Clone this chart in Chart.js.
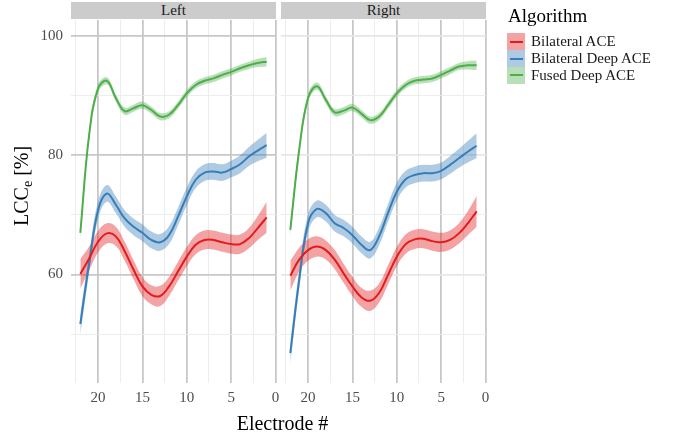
<!DOCTYPE html>
<html>
<head>
<meta charset="utf-8">
<script src="https://cdn.jsdelivr.net/npm/chart.js@4.4.1/dist/chart.umd.min.js"></script>
<style>
  body { margin: 0; background: #fff; font-family: "Liberation Serif", serif; }
  #wrap { position: relative; width: 680px; height: 438px; overflow: hidden; }
  canvas { position: absolute; left: 0; top: 0; }
  .strip { position: absolute; top: 2px; height: 17px; background: #cccccc; color: #1a1a1a;
           font-size: 15px; line-height: 17px; text-align: center; }
  #xtitle { position: absolute; left: 0; width: 565px; top: 413px; font-size: 20px; line-height: 20px;
            text-align: center; color: #000; }
  #ytitle { position: absolute; left: 11px; top: 226px; font-size: 20px; line-height: 20px; white-space: nowrap;
            transform-origin: 0 0; transform: rotate(-90deg); color: #000; }
  #ytitle span { font-size: 14px; position: relative; top: 4px; }
  #legend { position: absolute; left: 507px; top: 0; }
  .ltitle { position: absolute; left: 1px; top: 6px; font-size: 19px; line-height: 19px; white-space: nowrap; }
  .item { position: absolute; left: 0; height: 17px; white-space: nowrap; font-size: 15px; line-height: 17px; }
  .key { position: absolute; left: 0; top: 0; width: 18px; height: 17px; }
  .key i { position: absolute; left: 3px; top: 7.5px; width: 13px; height: 2px; }
  .item b { font-weight: normal; position: absolute; left: 24px; top: 0; color: #1a1a1a; }
</style>
</head>
<body>
<div id="wrap">
  <canvas id="leftChart" width="680" height="438"></canvas>
  <canvas id="rightChart" width="680" height="438"></canvas>
  <div class="strip" style="left:71px;width:205px;">Left</div>
  <div class="strip" style="left:281px;width:205px;">Right</div>
  <div id="xtitle">Electrode #</div>
  <div id="ytitle">LCC<span>e</span> [%]</div>
  <div id="legend"><div class="ltitle">Algorithm</div></div>
</div>
<script>
const electrodes = [22, 21, 20, 19, 18, 17, 16, 15, 14, 13, 12, 11, 10, 9, 8, 7, 6, 5, 4, 3, 2, 1];
const algorithms = ["Bilateral ACE", "Bilateral Deep ACE", "Fused Deep ACE"];
const lineColors = ["#E41A1C", "#377EB8", "#4DAF4A"];
const fillColors = ["rgba(228,26,28,0.4)", "rgba(55,126,184,0.4)", "rgba(77,175,74,0.4)"];

// smoothed LCC_e per electrode (22 -> 1)
const leftRed = [60.1, 62.7, 65.5, 66.9, 66.4, 63.9, 60.8, 58.0, 56.6, 56.4, 58.0, 60.5, 63.0, 65.0, 65.8, 65.8, 65.4, 65.1, 65.1, 66.1, 67.8, 69.6];
const leftBlue = [51.7, 61.9, 70.8, 73.6, 71.7, 69.4, 68.0, 67.0, 65.8, 65.4, 66.6, 69.7, 73.1, 75.9, 77.1, 77.3, 77.1, 77.7, 78.5, 79.8, 80.8, 81.7];
const leftGreen = [67.0, 83.5, 91.2, 92.5, 89.6, 87.4, 87.9, 88.4, 87.6, 86.5, 86.8, 88.4, 90.4, 91.8, 92.5, 92.9, 93.5, 94.0, 94.6, 95.1, 95.5, 95.7];
const rightRed = [59.8, 62.5, 64.1, 64.7, 64.1, 62.5, 60.2, 58.0, 56.2, 55.6, 56.9, 59.9, 63.0, 65.1, 65.9, 66.0, 65.6, 65.4, 65.8, 66.9, 68.6, 70.6];
const rightBlue = [46.8, 59.1, 68.6, 71.0, 70.3, 68.6, 67.8, 66.6, 65.0, 64.1, 66.4, 70.3, 73.9, 76.0, 76.7, 77.0, 77.0, 77.4, 78.4, 79.5, 80.6, 81.6];
const rightGreen = [67.5, 80.9, 89.6, 91.6, 89.3, 87.2, 87.5, 88.0, 87.0, 85.9, 86.5, 88.4, 90.4, 91.8, 92.5, 92.7, 92.9, 93.5, 94.2, 94.9, 95.1, 95.1];

// half width of the confidence band
const seRed = [2.5, 2.0, 1.8, 1.7, 1.6, 1.6, 1.6, 1.6, 1.6, 1.7, 1.6, 1.6, 1.6, 1.6, 1.6, 1.6, 1.6, 1.6, 1.6, 1.7, 2.0, 2.6];
const seBlue = [1.8, 1.6, 1.5, 1.4, 1.4, 1.4, 1.4, 1.4, 1.4, 1.4, 1.5, 1.5, 1.5, 1.4, 1.4, 1.4, 1.4, 1.4, 1.5, 1.6, 1.8, 2.1];
const seGreen = [1.2, 0.9, 0.7, 0.6, 0.6, 0.6, 0.6, 0.6, 0.6, 0.6, 0.6, 0.6, 0.6, 0.6, 0.6, 0.6, 0.6, 0.6, 0.6, 0.6, 0.7, 0.8];

const xGridValues = [0, 2.5, 5, 7.5, 10, 12.5, 15, 17.5, 20, 22.5];
const yGridValues = [50, 60, 70, 80, 90, 100];

Chart.defaults.font.family = "'Liberation Serif', serif";

function buildDatasets(series) {
  const ses = [seRed, seBlue, seGreen];
  const out = [];
  series.forEach(function (vals, i) {
    const pts = k => electrodes.map((e, j) => ({ x: e, y: vals[j] + k * ses[i][j] }));
    const common = { pointRadius: 0, tension: 0.4 };
    out.push(Object.assign({ data: pts(1), fill: "+1", backgroundColor: fillColors[i], borderWidth: 0, order: 2 }, common));
    out.push(Object.assign({ data: pts(-1), fill: false, borderWidth: 0, order: 2 }, common));
    out.push(Object.assign({ label: algorithms[i], data: pts(0), fill: false, borderColor: lineColors[i], borderWidth: 2, order: 1 }, common));
  });
  return out;
}

function makePanel(id, series, isLeft) {
  const ctx = document.getElementById(id).getContext("2d");
  const yMajor = isLeft ? "#c8c8c8" : "#e6e6e6";
  new Chart(ctx, {
    type: "line",
    data: { datasets: buildDatasets(series) },
    options: {
      responsive: false,
      animation: false,
      devicePixelRatio: 1,
      layout: { padding: isLeft ? { left: 0, right: 404, top: 20, bottom: 0 } : { left: 281, right: 194, top: 20, bottom: 0 } },
      plugins: { legend: { display: false }, tooltip: { enabled: false } },
      scales: {
        x: {
          type: "linear",
          reverse: true,
          min: -0.05,
          max: 23.05,
          border: { display: false },
          afterBuildTicks: s => { s.ticks = xGridValues.map(v => ({ value: v })); },
          afterFit: s => { s.height = 55; },
          grid: {
            drawTicks: false,
            color: c => (c.tick && c.tick.value % 5 === 0 ? "#c8c8c8" : "#ebebeb"),
            lineWidth: c => (c.tick && c.tick.value % 5 === 0 ? 1.8 : 0.9),
          },
          ticks: {
            padding: 6,
            autoSkip: false,
            maxRotation: 0,
            color: "#4d4d4d",
            font: { size: 15 },
            callback: v => (v % 5 === 0 ? v : ""),
          },
        },
        y: {
          min: 41.8,
          max: 102.7,
          border: { display: false },
          afterBuildTicks: s => { s.ticks = yGridValues.map(v => ({ value: v })); },
          afterFit: s => { s.width = isLeft ? 71 : 0; },
          grid: {
            drawTicks: false,
            color: c => (c.tick && c.tick.value % 20 === 0 ? yMajor : "#ebebeb"),
            lineWidth: c => (c.tick && c.tick.value % 20 === 0 ? 1.8 : 0.9),
          },
          ticks: {
            display: isLeft,
            padding: 8,
            color: "#4d4d4d",
            font: { size: 15 },
            callback: v => (v % 20 === 0 ? v : ""),
          },
        },
      },
    },
  });
}

function buildLegend() {
  const box = document.getElementById("legend");
  algorithms.forEach(function (name, i) {
    const item = document.createElement("div");
    item.className = "item";
    item.style.top = (33.3 + i * 16.7) + "px";
    item.innerHTML = '<span class="key" style="background:' + fillColors[i] + '"><i style="background:' +
      lineColors[i] + '"></i></span><b>' + name + "</b>";
    box.appendChild(item);
  });
}

makePanel("leftChart", [leftRed, leftBlue, leftGreen], true);
makePanel("rightChart", [rightRed, rightBlue, rightGreen], false);
buildLegend();
</script>
</body>
</html>
